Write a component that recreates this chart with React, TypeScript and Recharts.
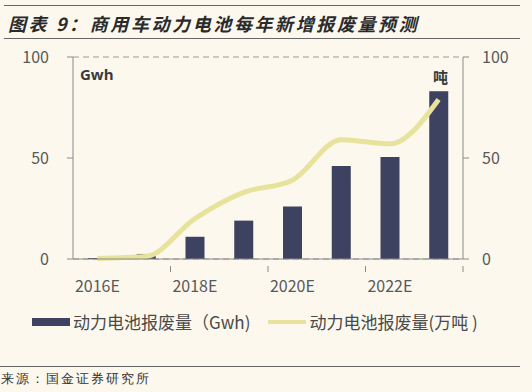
import React from "react";
import { ComposedChart, Bar, Line, XAxis, YAxis, CartesianGrid } from "recharts";

const years = ["2016E", "2017E", "2018E", "2019E", "2020E", "2021E", "2022E", "2023E"];
const gwhValues = [0.5, 2.5, 11, 19, 26, 46, 50.5, 83];
const tonValues = [0.3, 1.2, 20, 33, 39, 59, 57, 79];
const yTicks = [0, 50, 100];

const seriesGwh = "动力电池报废量（Gwh)";
const seriesTon = "动力电池报废量(万吨 )";

const data = years.map((y, i) => ({ year: y, gwh: gwhValues[i], ton: tonValues[i] }));

const BG = "#fcf8ee";
const BAR = "#3c4260";
const LINE = "#e7e39c";
const AXIS = "#8a8a8a";
const TXT = "#595959";
const FONT = "'Noto Sans CJK SC', 'Noto Sans', sans-serif";

const XTick = (props: any) => {
  const { x, y, payload } = props;
  const off = payload && payload.offset ? payload.offset : 24.375;
  return (
    <g>
      <line x1={x + 3 * off} x2={x + 3 * off} y1={y - 1} y2={y + 5} stroke={AXIS} strokeWidth={1} />
      <text x={x} y={y + 25} textAnchor="middle" fontSize={16} fill={TXT} fontFamily={FONT}>
        {payload.value}
      </text>
    </g>
  );
};

export default function App() {
  return (
    <div style={{ position: "absolute", left: 0, top: 0, width: 532, height: 392, background: BG, overflow: "hidden", fontFamily: FONT }}>
      <div style={{ position: "absolute", left: 4, top: 5, width: 516, height: 1, background: "#666" }} />
      <div
        style={{
          position: "absolute",
          left: 8,
          top: 10,
          fontSize: 18,
          fontWeight: 700,
          fontStyle: "italic",
          letterSpacing: 2.6,
          color: "#2a2a2a",
          whiteSpace: "nowrap",
          lineHeight: "26px",
        }}
      >
        图表 9：商用车动力电池每年新增报废量预测
      </div>
      <div style={{ position: "absolute", left: 4, top: 38, width: 516, height: 1, background: "#666" }} />

      <div style={{ position: "absolute", left: 0, top: 0 }}>
        <ComposedChart width={532} height={392} data={data} margin={{ top: 57, right: 0, bottom: 103, left: 0 }}>
          <CartesianGrid vertical={false} stroke="#9a9a9a" strokeDasharray="6 4" />
          <XAxis
            dataKey="year"
            interval={1}
            tickLine={false}
            axisLine={{ stroke: AXIS }}
            tick={<XTick />}
            height={30}
          />
          <YAxis
            yAxisId="left"
            domain={[0, 100]}
            ticks={yTicks}
            width={73}
            axisLine={{ stroke: AXIS }}
            tickLine={{ stroke: AXIS }}
            tickSize={6}
            tickMargin={18}
            tick={{ fontSize: 16, fill: TXT, fontFamily: FONT }}
          />
          <YAxis
            yAxisId="right"
            orientation="right"
            domain={[0, 100]}
            ticks={yTicks}
            width={69}
            axisLine={{ stroke: AXIS }}
            tickLine={{ stroke: AXIS }}
            tickSize={6}
            tickMargin={13}
            tick={{ fontSize: 16, fill: TXT, fontFamily: FONT }}
          />
          <Bar yAxisId="left" dataKey="gwh" name={seriesGwh} fill={BAR} barSize={19} isAnimationActive={false} />
          <Line
            yAxisId="right"
            dataKey="ton"
            name={seriesTon}
            type="monotone"
            stroke={LINE}
            strokeWidth={5}
            dot={false}
            isAnimationActive={false}
          />
        </ComposedChart>
      </div>

      <div style={{ position: "absolute", left: 80, top: 64, fontSize: 15, fontWeight: 700, color: "#3a3a3a", fontFamily: "'Open Sans', sans-serif" }}>
        Gwh
      </div>
      <div style={{ position: "absolute", left: 433, top: 66, fontSize: 15, fontWeight: 700, color: "#3a3a3a" }}>吨</div>

      <div style={{ position: "absolute", left: 32, top: 309, display: "flex", alignItems: "center", fontSize: 17, color: "#4a4a4a", whiteSpace: "nowrap", lineHeight: "26px" }}>
        <span style={{ display: "inline-block", width: 38, height: 8, background: BAR, marginRight: 3 }} />
        <span>{seriesGwh}</span>
        <span style={{ display: "inline-block", width: 38, height: 4, background: LINE, marginLeft: 18, marginRight: 3 }} />
        <span>{seriesTon}</span>
      </div>

      <div style={{ position: "absolute", left: 0, top: 366, width: 520, height: 1, background: "#666" }} />
      <div style={{ position: "absolute", left: 1, top: 370, fontSize: 13, letterSpacing: 2, color: "#333", whiteSpace: "nowrap", fontFamily: "serif" }}>
        来源：国金证券研究所
      </div>
    </div>
  );
}
